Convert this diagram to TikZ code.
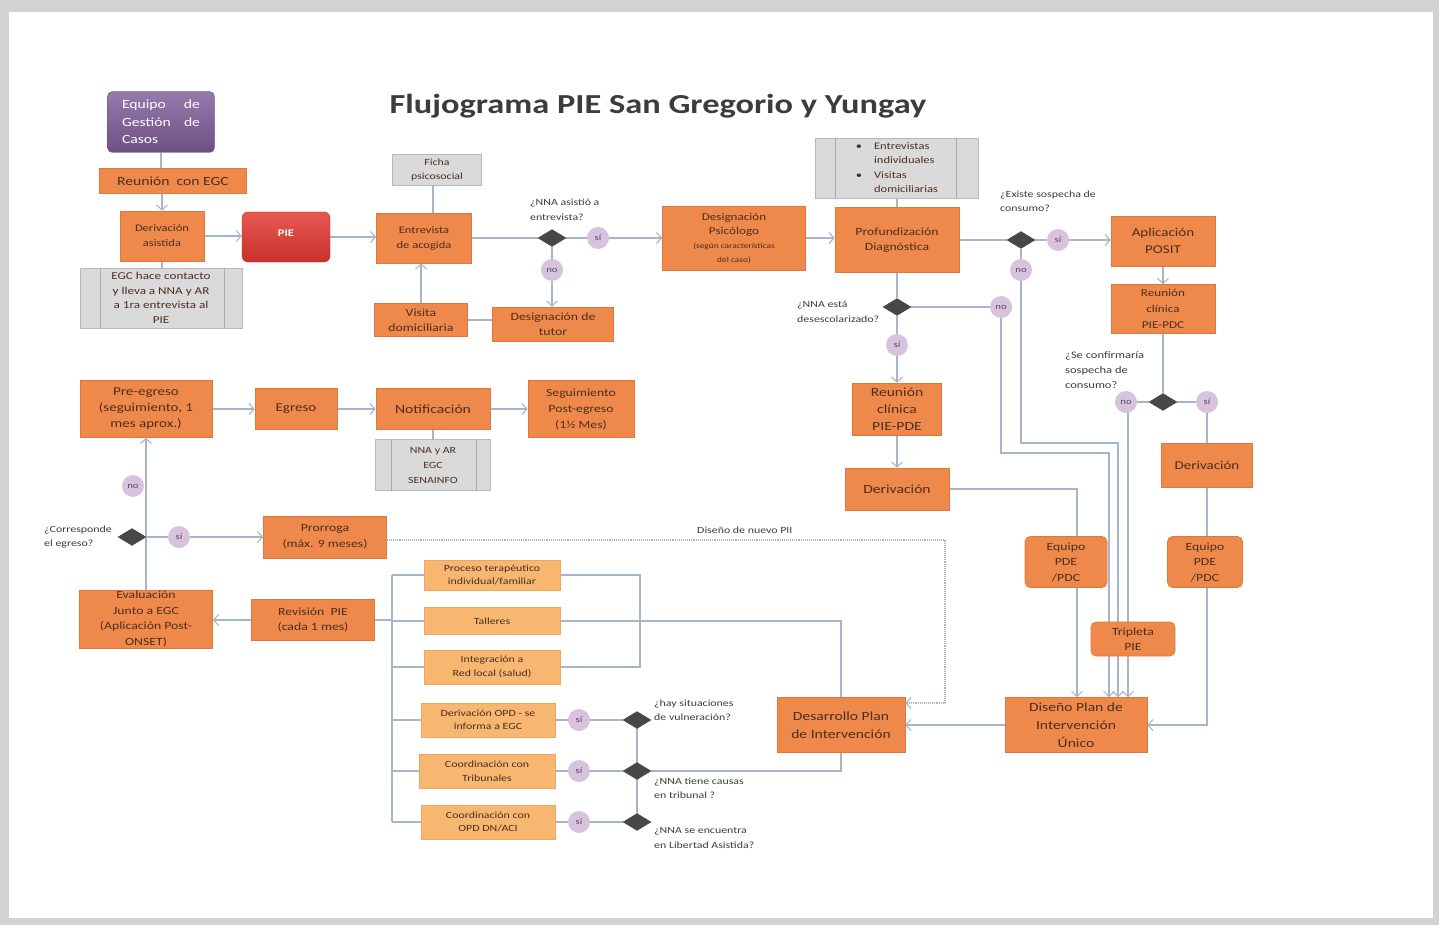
\documentclass[tikz,border=0pt]{standalone}
\usepackage{fontspec}
\setmainfont{Carlito}[FakeStretch=1.25]
\usetikzlibrary{shapes.geometric,arrows.meta,calc}
\pgfdeclarelayer{bg}
\pgfdeclarelayer{wires}
\pgfsetlayers{bg,wires,main}

\definecolor{orFill}{HTML}{EE894B}
\definecolor{orBd}{HTML}{E0773A}
\definecolor{lorFill}{HTML}{F7B771}
\definecolor{lorBd}{HTML}{EFA65E}
\definecolor{grFill}{HTML}{DADADA}
\definecolor{grBd}{HTML}{B8B8B8}
\definecolor{grLine}{HTML}{A9A9A9}
\definecolor{boxTxt}{HTML}{4B2E1E}
\definecolor{decFill}{HTML}{474747}
\definecolor{ansFill}{HTML}{D7C3DE}
\definecolor{ansTxt}{HTML}{5C4668}
\definecolor{lblTxt}{HTML}{3C3C3C}
\definecolor{wire}{HTML}{A6B6CA}
\definecolor{pageEdge}{HTML}{D2D2D2}
\definecolor{purTop}{RGB}{150,122,172}
\definecolor{purBot}{RGB}{108,80,132}
\definecolor{purBd}{RGB}{100,72,122}
\definecolor{redTop}{RGB}{230,90,80}
\definecolor{redBot}{RGB}{200,48,44}
\definecolor{redBd}{RGB}{190,45,40}

\tikzset{
  fs/.style 2 args={font=\fontsize{#1}{#2}\selectfont},
  wh/.style 2 args={minimum width=#1, minimum height=#2},
  box/.style={draw=orBd, fill=orFill, text=boxTxt, align=center, inner sep=1pt, line width=0.6pt},
  lbox/.style={box, draw=lorBd, fill=lorFill, fs={9.5}{13.5}},
  gbox/.style={draw=grBd, fill=grFill, text=boxTxt, align=center, inner sep=1pt, line width=0.6pt},
  rbox/.style={box, rounded corners=5pt},
  dec/.style={diamond, fill=decFill, draw=decFill, minimum width=28pt, minimum height=17pt, inner sep=0pt},
  ans/.style={circle, fill=ansFill, text=ansTxt, minimum size=22pt, inner sep=0pt, fs={8.5}{10}},
  lbl/.style={text=lblTxt, align=left, fs={9.5}{14.5}, anchor=west, inner sep=0pt},
  ln/.style={draw=wire, line width=1.1pt},
  arr/.style={ln, -{Straight Barb[length=5pt,width=11pt]}},
  dotarr/.style={draw=wire, line width=1.1pt, densely dotted, -{Straight Barb[length=5pt,width=11pt]}},
  cell/.style={draw=grLine, line width=0.8pt},
}

\begin{document}
\begin{tikzpicture}[x=1pt,y=-1pt]
\useasboundingbox (0,0) rectangle (1439,925);

% page
\begin{pgfonlayer}{bg}
  \fill[pageEdge] (0,0) rectangle (1439,925);
  \fill[white] (9,12) rectangle (1433,918);
\end{pgfonlayer}

% title
\node[text=lblTxt, font=\fontsize{27.5}{32}\selectfont\bfseries] (title) at (658,106) {Flujograma PIE San Gregorio y Yungay};

% ---------- entry ----------
\node[rounded corners=5pt, draw=purBd, top color=purTop, bottom color=purBot, wh={107}{61}, text=white, fs={12.5}{17.5}, text width=78pt, align=left, inner sep=1pt] (egc) at (161,122) {Equipo\hfill de\\Gestión\hfill de\\Casos};
\node[box, wh={147}{25}, fs={12.5}{15}] (reu) at (173,181) {Reunión\ \ con EGC};
\node[box, wh={84}{50}, fs={10}{15}] (da) at (162,236) {Derivación\\asistida};
\node[gbox, wh={162}{60}, fs={10.5}{14.5}] (g1) at (161,298) {EGC hace contacto\\y lleva a NNA y AR\\a 1ra entrevista al\\PIE};
\draw[cell] ($(g1.north west)+(21,0)$) -- ($(g1.south west)+(21,0)$);
\draw[cell] ($(g1.north east)+(-18,0)$) -- ($(g1.south east)+(-18,0)$);
\node[rounded corners=6pt, draw=redBd, top color=redTop, bottom color=redBot, wh={88}{50}, text=white, fs={12.5}{15}, font=\bfseries] (pie) at (286,237) {\raisebox{8pt}{PIE}};

\node[gbox, wh={89}{31}, fs={9.5}{13.5}] (ficha) at (437,170) {Ficha\\psicosocial};
\node[box, wh={95}{50}, fs={10}{15}] (ent) at (424,238) {Entrevista\\de acogida};
\node[dec] (d1) at (552,238) {};
\node[lbl] (l1) at (530,210) {¿NNA asistió a\\entrevista?};
\node[ans] (c1si) at (598,238) {sí};
\node[ans] (c1no) at (552,270) {no};
\node[box, wh={121}{34}, fs={11}{15}] (tutor) at (553,324) {Designación de\\tutor};
\node[box, wh={93}{33}, fs={11}{15}] (visita) at (421,320) {Visita\\domiciliaria};

\node[box, wh={143}{64}, fs={10.5}{14}] (psic) at (734,238) {Designación\\Psicólogo\\{\fontsize{7.5}{10}\selectfont (según características}\\{\fontsize{7.5}{10}\selectfont del caso)}};
\node[gbox, wh={163}{60}, fs={10}{14.5}] (g2) at (897,168) {\begin{tabular}{@{}l@{\hspace{12pt}}l@{}}\textbullet & Entrevistas\\ & individuales\\ \textbullet & Visitas\\ & domiciliarias\end{tabular}};
\draw[cell] ($(g2.north west)+(20,0)$) -- ($(g2.south west)+(20,0)$);
\draw[cell] ($(g2.north east)+(-22,0)$) -- ($(g2.south east)+(-22,0)$);
\node[box, wh={124}{65}, fs={11}{15}] (prof) at (897,240) {Profundización\\Diagnóstica};
\node[dec] (d2) at (1021,240) {};
\node[lbl] (l2) at (1000,201) {¿Existe sospecha de\\consumo?};
\node[ans] (c2si) at (1058,240) {sí};
\node[ans] (c2no) at (1021,270) {no};
\node[box, wh={104}{50}, fs={12}{17}] (posit) at (1163,241) {Aplicación\\POSIT};
\node[box, wh={104}{49}, fs={10.5}{16}] (pdc) at (1163,309) {Reunión\\clínica\\PIE-PDC};
\node[dec] (d3) at (1163,402) {};
\node[lbl, fs={10}{15}] (l3) at (1065,370) {¿Se confirmaría\\sospecha de\\consumo?};
\node[ans] (c3no) at (1126,402) {no};
\node[ans] (c3si) at (1207,402) {sí};
\node[box, wh={91}{44}, fs={12}{15}] (der2) at (1207,465) {Derivación};

\node[dec] (d4) at (897,307) {};
\node[lbl] (l4) at (797,312) {¿NNA está\\desescolarizado?};
\node[ans] (c4no) at (1001,307) {no};
\node[ans] (c4si) at (897,345) {sí};
\node[box, wh={89}{52}, fs={12.5}{17}] (pde) at (897,409) {Reunión\\clínica\\PIE-PDE};
\node[box, wh={104}{42}, fs={12.5}{15}] (der1) at (897,489) {Derivación};
\node[rbox, wh={82}{51}, fs={11}{15.5}] (eq1) at (1066,562) {Equipo\\PDE\\/PDC};
\node[rbox, wh={75}{51}, fs={11}{15.5}] (eq2) at (1205,562) {Equipo\\PDE\\/PDC};
\node[rbox, wh={84}{34}, fs={11}{15}] (trip) at (1133,639) {Tripleta\\PIE};
\node[box, wh={142}{55}, fs={12.5}{18}] (dpi) at (1076,725) {Diseño Plan de\\Intervención\\Único};
\node[box, wh={128}{55}, fs={12.5}{18}] (des) at (841,725) {Desarrollo Plan\\de Intervención};

% ---------- exit ----------
\node[box, wh={132}{57}, fs={12}{16}] (pre) at (146,409) {Pre-egreso\\(seguimiento, 1\\mes aprox.)};
\node[box, wh={82}{41}, fs={12}{15}] (egr) at (296,409) {Egreso};
\node[box, wh={114}{41}, fs={12.5}{15}] (notif) at (433,409) {Notificación};
\node[gbox, wh={115}{51}, fs={9.5}{15}] (g3) at (433,465) {NNA y AR\\EGC\\SENAINFO};
\draw[cell] ($(g3.north west)+(16,0)$) -- ($(g3.south west)+(16,0)$);
\draw[cell] ($(g3.north east)+(-14,0)$) -- ($(g3.south east)+(-14,0)$);
\node[box, wh={106}{57}, fs={11}{16}] (seg) at (581,409) {Seguimiento\\Post-egreso\\(1½ Mes)};

\node[ans] (c5no) at (133,486) {no};
\node[dec] (d5) at (132,537) {};
\node[lbl] (l5) at (44,537) {¿Corresponde\\el egreso?};
\node[ans] (c5si) at (179,537) {sí};
\node[box, wh={123}{42}, fs={11}{16}] (pro) at (325,537) {Prorroga\\(máx. 9 meses)};
\node[box, wh={133}{58}, fs={11}{15.5}] (eva) at (146,619) {Evaluación\\Junto a EGC\\(Aplicación Post-\\ONSET)};
\node[box, wh={123}{41}, fs={11}{15}] (rev) at (313,620) {Revisión\ \ PIE\\(cada 1 mes)};

\node[lbox, wh={136}{30}] (lo1) at (492,575) {Proceso terapéutico\\individual/familiar};
\node[lbox, wh={136}{27}] (lo2) at (492,621) {Talleres};
\node[lbox, wh={136}{34}] (lo3) at (492,667) {Integración a\\Red local (salud)};
\node[lbox, wh={134}{34}] (lo4) at (488,720) {Derivación OPD - se\\informa a EGC};
\node[lbox, wh={136}{34}] (lo5) at (487,771) {Coordinación con\\Tribunales};
\node[lbox, wh={134}{34}] (lo6) at (488,822) {Coordinación con\\OPD DN/ACI};
\node[ans] (c6) at (579,720) {sí};
\node[ans] (c7) at (579,771) {sí};
\node[ans] (c8) at (579,822) {sí};
\node[dec] (d6) at (637,720) {};
\node[dec] (d7) at (637,771) {};
\node[dec] (d8) at (637,822) {};
\node[lbl] (l6) at (654,710) {¿hay situaciones\\de vulneración?};
\node[lbl] (l7) at (654,788) {¿NNA tiene causas\\en tribunal ?};
\node[lbl] (l8) at (654,838) {¿NNA se encuentra\\en Libertad Asistida?};
\node[lbl, fs={9.5}{12}] (lnp) at (697,530) {Diseño de nuevo PII};

% bends
\coordinate (k1) at (1118,443);
\coordinate (k2) at (1001,453);
\coordinate (k3) at (1109,453);
\coordinate (k4) at (1128,402);
\coordinate (e1) at (1077,489);
\coordinate (k5) at (945,703);
\coordinate (b1) at (640,575);
\coordinate (b2) at (640,667);
\coordinate (bus1) at (392,575);
\coordinate (bus2) at (392,822);

% ---------- connectors ----------
\begin{pgfonlayer}{wires}
\draw[ln] (egc.south) -- (egc.south |- reu.north);
\draw[arr] (reu.south -| da.north) -- (da.north);
\draw[ln] (da.south) -- (da.south |- g1.north);
\draw[arr] (da.east) -- (da.east -| pie.west);
\draw[arr] (pie.east) -- (pie.east -| ent.west);
\draw[ln] (ficha.south -| 433,0) -- (ent.north -| 433,0);
\draw[arr] (visita.north) -- (visita.north |- ent.south);
\draw[ln] (visita.east) -- (visita.east -| tutor.west);
\draw[ln] (ent.east) -- (d1.west);
\draw[arr] (d1.east) -- (psic.west);
\draw[arr] (d1.south) -- (d1.south |- tutor.north);
\draw[arr] (psic.east) -- (psic.east -| prof.west);
\draw[ln] (g2.south) -- (prof.north);
\draw[ln] (prof.east) -- (d2.west);
\draw[arr] (d2.east) -- (d2.east -| posit.west);
\draw[arr] (d2.south) |- (k1) -- (k1 |- dpi.north);
\draw[arr] (posit.south) -- (pdc.north);
\draw[ln] (pdc.south) -- (d3.north);
\draw[arr] (d3.west) -- (k4) -- (k4 |- dpi.north);
\draw[ln] (d3.east) -| (der2.north);
\draw[ln] (der2.south) -- (der2.south |- eq2.north);
\draw[arr] (eq2.south -| der2.south) |- (dpi.east);
\draw[ln] (prof.south) -- (d4.north);
\draw[arr] (d4.east) -| (k2) -- (k3) -- (k3 |- dpi.north);
\draw[arr] (d4.south) -- (pde.north);
\draw[arr] (pde.south) -- (der1.north);
\draw[ln] (der1.east) -- (e1) -- (e1 |- eq1.north);
\draw[arr] (e1 |- eq1.south) -- (e1 |- dpi.north);
\draw[arr] (dpi.west) -- (dpi.west -| des.east);
\draw[dotarr] ($(pro.east)+(0,3)$) -| (k5) -- (k5 -| des.east);
\draw[ln] (lo2.east) -| (des.north);
\draw[ln] (lo1.east) -- (b1) -- (b2) -- (lo3.east);
\draw[ln] (des.south) |- (d7.east);
\draw[ln] (d6.center) -- (d8.center);
\draw[ln] (lo4.east) -- (d6.west);
\draw[ln] (lo5.east) -- (d7.west);
\draw[ln] (lo6.east) -- (d8.west);
\draw[ln] (bus1) -- (bus2);
\draw[ln] (bus1) -- (lo1.west);
\draw[ln] (lo2.west -| bus1) -- (lo2.west);
\draw[ln] (lo3.west -| bus1) -- (lo3.west);
\draw[ln] (lo4.west -| bus1) -- (lo4.west);
\draw[ln] (lo5.west -| bus1) -- (lo5.west);
\draw[ln] (bus2) -- (lo6.west);
\draw[ln] (rev.east) -- (rev.east -| bus1);
\draw[arr] (rev.west) -- (rev.west -| eva.east);
\draw[arr] (eva.north) -- (pre.south);
\draw[arr] (d5.east) -- (d5.east -| pro.west);
\draw[arr] (pre.east) -- (egr.west);
\draw[arr] (egr.east) -- (notif.west);
\draw[arr] (notif.east) -- (seg.west);
\draw[ln] (notif.south) -- (g3.north);
\end{pgfonlayer}
\end{tikzpicture}
\end{document}
